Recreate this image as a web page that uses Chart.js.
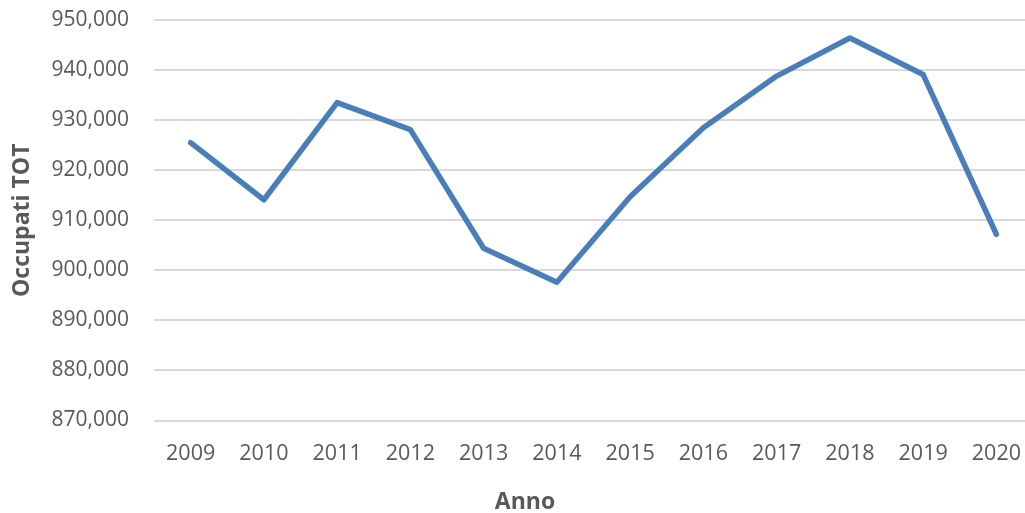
<!DOCTYPE html>
<html>
<head>
<meta charset="utf-8">
<script src="https://cdn.jsdelivr.net/npm/chart.js@4"></script>
<style>
  html, body { margin: 0; padding: 0; background: #ffffff; overflow: hidden; }
  canvas { display: block; }
</style>
</head>
<body>
<canvas id="c" width="1033" height="513"></canvas>
<script>
const years = ['2009','2010','2011','2012','2013','2014','2015','2016','2017','2018','2019','2020'];
const occupati = [925500, 914100, 933500, 928100, 904400, 897600, 914700, 928500, 938800, 946400, 939100, 907200];
const yMin = 870000;
const yMax = 950000;
const yStep = 10000;
const xTitle = 'Anno';
const yTitle = 'Occupati TOT';

const textColor = '#595959';
const fontFamily = '"Open Sans", "Liberation Sans", sans-serif';

const xTitlePlugin = {
  id: 'xTitlePlugin',
  afterDraw(chart) {
    const ctx = chart.ctx;
    ctx.save();
    ctx.font = 'bold 23px ' + fontFamily;
    ctx.fillStyle = textColor;
    ctx.textAlign = 'center';
    ctx.textBaseline = 'middle';
    ctx.fillText(xTitle, 525, 502);
    ctx.restore();
  }
};

new Chart(document.getElementById('c'), {
  type: 'line',
  data: {
    labels: years,
    datasets: [{
      data: occupati,
      borderColor: '#4a7ebb',
      backgroundColor: '#4a7ebb',
      borderWidth: 5.5,
      pointRadius: 0,
      pointHoverRadius: 0,
      tension: 0,
      borderCapStyle: 'round',
      borderJoinStyle: 'round',
      fill: false
    }]
  },
  plugins: [xTitlePlugin],
  options: {
    responsive: false,
    maintainAspectRatio: false,
    animation: false,
    devicePixelRatio: 1,
    layout: { padding: { top: 20, left: 0, right: 0, bottom: 0 } },
    plugins: { legend: { display: false }, tooltip: { enabled: false } },
    scales: {
      x: {
        offset: true,
        grid: { display: false },
        border: { display: false },
        ticks: { color: textColor, font: { family: fontFamily, size: 21.5 }, padding: 12, maxRotation: 0 },
        title: { display: false },
        afterFit: (s) => { s.height = 92.5; s.paddingLeft = 0; s.paddingRight = 0; }
      },
      y: {
        min: yMin,
        max: yMax,
        grid: { color: '#d9d9d9', lineWidth: 2, drawTicks: false },
        border: { display: false },
        ticks: {
          stepSize: yStep,
          color: textColor,
          font: { family: fontFamily, size: 21 },
          padding: 25,
          callback: (v) => Number(v).toLocaleString('en-US')
        },
        title: { display: true, text: yTitle, color: textColor, font: { family: fontFamily, size: 23, weight: 'bold' }, padding: { top: 9, bottom: 0 } },
        afterFit: (s) => { s.width = 154; s.paddingTop = 0; s.paddingBottom = 0; }
      }
    }
  }
});
</script>
</body>
</html>
